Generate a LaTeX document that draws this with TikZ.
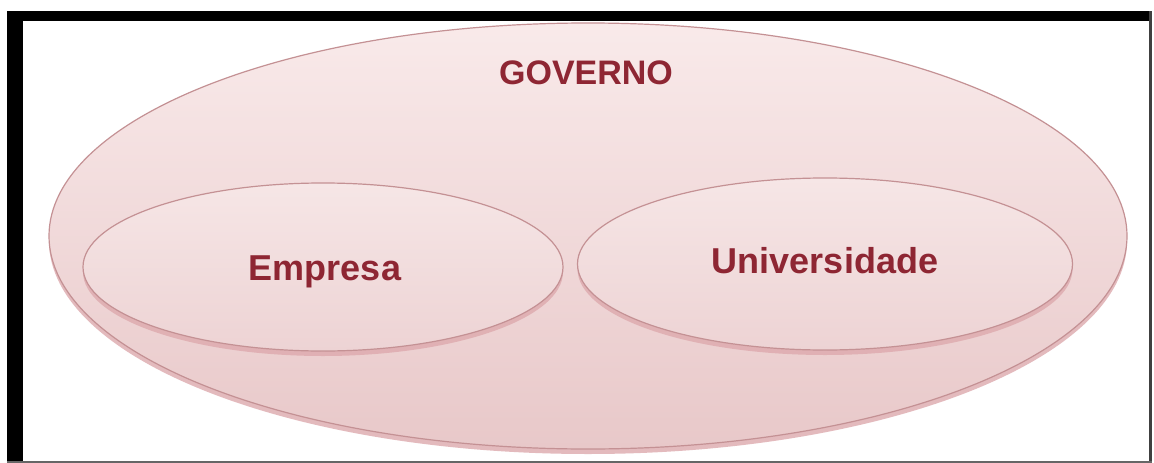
\documentclass[tikz,border=0pt]{standalone}
\usepackage{fontspec}
\setmainfont{Liberation Sans}
\usetikzlibrary{shapes.geometric,shadows}
\definecolor{rimred}{HTML}{C49194}
\definecolor{labelred}{HTML}{8E2633}
\definecolor{pinktop}{HTML}{F9EAEA}
\definecolor{pinkbot}{HTML}{E8C8C9}
\definecolor{innertop}{HTML}{F6E6E6}
\definecolor{innerbot}{HTML}{EDD3D4}
\definecolor{shadowpink}{HTML}{DDA9AD}
\begin{document}
\begin{tikzpicture}[x=1pt,y=-1pt,
  sphere/.style={ellipse, draw=rimred, line width=1.2pt, inner sep=0pt,
    drop shadow={shadow xshift=0pt, shadow yshift=-5pt, fill=shadowpink, opacity=0.8}},
  outer/.style={sphere, top color=pinktop, bottom color=pinkbot},
  inner/.style={sphere, top color=innertop, bottom color=innerbot},
  label/.style={text=labelred, font=\bfseries\fontsize{36}{40}\selectfont, anchor=base, inner sep=0pt}]
  \useasboundingbox (0,0) rectangle (1154,463);
  \fill[white] (0,0) rectangle (1154,463);
  % outer set: government
  \node[outer, minimum width=1078pt, minimum height=426pt] (gov) at (588,236) {};
  % inner sets
  \node[inner, minimum width=480pt, minimum height=168pt] (emp) at (323,267) {};
  \node[inner, minimum width=495pt, minimum height=172pt] (uni) at (825,264) {};
  % labels
  \node[label, font=\bfseries\fontsize{34}{40}\selectfont] (govl) at (586,84) {GOVERNO};
  \node[label] (empl) at (325,280) {Empresa};
  \node[label] (unil) at (825,273) {Universidade};
  % frame
  \fill[black] (7,11) rectangle (23,463);
  \fill[black] (7,11) rectangle (1152,21);
  \fill[black!75] (1149,11) rectangle (1152,463);
  \fill[black!60] (7,460.5) rectangle (1152,463);
\end{tikzpicture}
\end{document}
